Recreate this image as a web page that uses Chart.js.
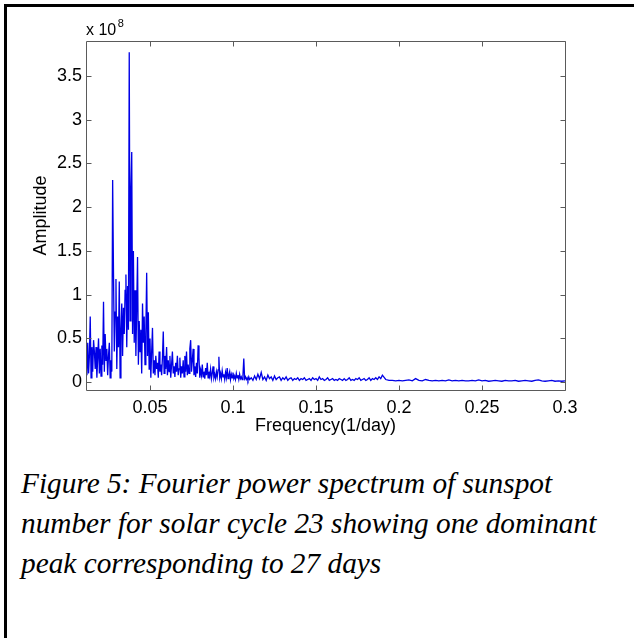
<!DOCTYPE html>
<html>
<head>
<meta charset="utf-8">
<script src="https://cdn.jsdelivr.net/npm/chart.js@4.4.1/dist/chart.umd.min.js"></script>
<style>
  html, body { margin: 0; padding: 0; background: #fff; }
  body { width: 634px; height: 638px; position: relative; overflow: hidden; }
  #frame { position: absolute; left: 4px; top: 4px; right: -10px; bottom: -10px;
           border-top: 3px solid #000; border-left: 3px solid #000; }
  #chart { position: absolute; left: 0; top: 0; }
  #caption { position: absolute; left: 21px; top: 463px; white-space: nowrap;
             font-family: "Liberation Serif", "Times New Roman", serif; font-style: italic;
             font-size: 29.3px; line-height: 40px; color: #000; }
</style>
</head>
<body>
<div id="frame"></div>
<canvas id="chart" width="634" height="440"></canvas>
<div id="caption">Figure 5: Fourier power spectrum of sunspot<br>number for solar cycle 23 showing one dominant<br>peak corresponding to 27 days</div>
<script>
// axis ranges and ticks (amplitude in units of 1e8)
const xMin = 0.01145, xMax = 0.3;
const yMin = -0.09, yMax = 3.9;
const xTicks = [0.05, 0.1, 0.15, 0.2, 0.25, 0.3];
const yTicks = [0, 0.5, 1, 1.5, 2, 2.5, 3, 3.5];

// low frequency part
const freqLow = [
  0.0115,0.0120,0.0125,0.0130,0.0135,0.0140,0.0145,0.0150,0.0155,0.0160,
  0.0165,0.0170,0.0175,0.0180,0.0185,0.0190,0.0195,0.0200,0.0205,0.0210,
  0.0215,0.0220,0.0225,0.0230,0.0235,0.0240,0.0245,0.0250,0.0255,0.0260,
  0.0265,0.0270,0.0275,0.0280,0.0285,0.0290,0.0295,0.0300,0.0305,0.0310,
  0.0315,0.0320,0.0325,0.0330,0.0335,0.0340,0.0345,0.0350,0.0355,0.0360,
  0.0365,0.0370,0.0375,0.0380,0.0385,0.0390,0.0395,0.0400,0.0405,0.0410,
  0.0415,0.0420,0.0425,0.0430,0.0435,0.0440,0.0445,0.0450,0.0455,0.0460,
  0.0465,0.0470,0.0475,0.0480,0.0485,0.0490,0.0495,0.0500,0.0505,0.0510,
  0.0515,0.0520,0.0525,0.0530,0.0535,0.0540,0.0545,0.0550,0.0555,0.0560,
  0.0565,0.0570,0.0575,0.0580,0.0585,0.0590,0.0595,0.0600,0.0605,0.0610,
  0.0615,0.0620,0.0625,0.0630,0.0635,0.0640,0.0645,0.0650,0.0655,0.0660,
  0.0665,0.0670,0.0675,0.0680,0.0685,0.0690,0.0695,0.0700,0.0705,0.0710,
  0.0715,0.0720,0.0725,0.0730,0.0735,0.0740,0.0745,0.0750,0.0755,0.0760,
  0.0765,0.0770,0.0775,0.0780,0.0785,0.0790,0.0795,0.0800,0.0805,0.0810,
  0.0815,0.0820,0.0825,0.0830,0.0835,0.0840,0.0845,0.0850,0.0855,0.0860,
  0.0865,0.0870,0.0875,0.0880,0.0885,0.0890,0.0895,0.0900,0.0905,0.0910,
  0.0915,0.0920,0.0925,0.0930,0.0935,0.0940,0.0945,0.0950,0.0955,0.0960,
  0.0965,0.0970,0.0975,0.0980,0.0985,0.0990,0.0995,0.1000,0.1005,0.1010,
  0.1015,0.1020,0.1025,0.1030,0.1035,0.1040,0.1045,0.1050,0.1055,0.1060,
  0.1065,0.1070,0.1075,0.1080,0.1085,0.1090,0.1095,0.1100
];
const ampLow = [
  0.35,0.08,0.45,0.10,0.30,0.75,0.05,0.40,0.12,0.48,
  0.35,0.15,0.40,0.05,0.28,0.50,0.10,0.38,0.07,0.42,
  0.20,0.92,0.12,0.55,0.25,0.38,0.08,0.30,0.45,0.05,
  0.25,0.12,2.31,1.27,0.35,0.80,1.18,0.15,0.75,0.40,
  1.15,0.05,0.60,0.90,0.30,0.85,0.55,1.05,1.23,0.40,
  1.10,0.60,3.77,0.70,2.20,2.63,0.55,1.50,0.45,1.05,
  0.30,0.85,1.43,0.20,0.70,0.35,0.60,0.10,0.90,0.45,
  0.75,0.20,0.55,1.25,0.30,0.80,0.15,0.50,0.05,0.35,
  0.62,0.10,0.25,0.08,0.30,0.15,0.22,0.05,0.35,0.12,
  0.20,0.08,0.28,0.58,0.10,0.30,0.15,0.40,0.08,0.25,
  0.12,0.30,0.05,0.20,0.35,0.10,0.18,0.06,0.22,0.12,
  0.30,0.08,0.15,0.28,0.05,0.18,0.10,0.25,0.06,0.30,
  0.12,0.35,0.08,0.20,0.10,0.38,0.48,0.12,0.25,0.38,
  0.08,0.18,0.06,0.22,0.10,0.42,0.28,0.05,0.14,0.08,
  0.20,0.06,0.12,0.04,0.16,0.08,0.22,0.05,0.12,0.07,
  0.15,0.04,0.10,0.18,0.05,0.09,0.04,0.12,0.06,0.14,
  0.29,0.05,0.10,0.04,0.13,0.06,0.09,0.03,0.11,0.05,
  0.16,0.04,0.08,0.12,0.03,0.09,0.05,0.11,0.04,0.07,
  0.03,0.10,0.05,0.08,0.03,0.09,0.04,0.06,0.03,0.08,
  0.27,0.04,0.06,0.03,0.05,0.02,0.06,0.03
];

// middle part
const freqMid = [
  0.111,0.112,0.113,0.114,0.115,0.116,0.117,0.118,0.119,0.120,
  0.121,0.122,0.123,0.124,0.125,0.126,0.127,0.128,0.129,0.130,
  0.131,0.132,0.133,0.134,0.135,0.136,0.137,0.138,0.139,0.140,
  0.141,0.142,0.143,0.144,0.145,0.146,0.147,0.148,0.149,0.150,
  0.151,0.152,0.153,0.154,0.155,0.156,0.157,0.158,0.159,0.160,
  0.161,0.162,0.163,0.164,0.165,0.166,0.167,0.168,0.169,0.170,
  0.171,0.172,0.173,0.174,0.175,0.176,0.177,0.178,0.179,0.180,
  0.181,0.182,0.183,0.184,0.185,0.186,0.187,0.188,0.189,0.190
];
const ampMid = [
  0.05,0.02,0.07,0.03,0.09,0.04,0.11,0.03,0.06,0.02,
  0.08,0.04,0.06,0.02,0.07,0.03,0.05,0.06,0.02,0.05,
  0.03,0.06,0.02,0.04,0.05,0.02,0.04,0.03,0.05,0.02,
  0.04,0.03,0.05,0.02,0.03,0.04,0.02,0.05,0.03,0.04,
  0.02,0.06,0.03,0.04,0.02,0.03,0.05,0.02,0.03,0.04,
  0.02,0.03,0.02,0.04,0.03,0.02,0.04,0.02,0.03,0.05,
  0.02,0.03,0.02,0.04,0.03,0.05,0.02,0.03,0.04,0.02,
  0.03,0.05,0.02,0.04,0.03,0.05,0.03,0.06,0.04,0.08
];

// high frequency tail
const freqHigh = [
  0.192,0.194,0.196,0.198,0.200,0.202,0.204,0.206,0.208,0.210,
  0.212,0.214,0.216,0.218,0.220,0.222,0.224,0.226,0.228,0.230,
  0.232,0.234,0.236,0.238,0.240,0.242,0.244,0.246,0.248,0.250,
  0.252,0.254,0.256,0.258,0.260,0.262,0.264,0.266,0.268,0.270,
  0.272,0.274,0.276,0.278,0.280,0.282,0.284,0.286,0.288,0.290,
  0.292,0.294,0.296,0.298,0.300
];
const ampHigh = [
  0.03,0.02,0.02,0.015,0.02,0.015,0.02,0.025,0.015,0.04,
  0.02,0.015,0.03,0.02,0.015,0.02,0.015,0.02,0.015,0.025,
  0.015,0.02,0.015,0.02,0.015,0.015,0.02,0.015,0.025,0.015,
  0.02,0.01,0.015,0.02,0.015,0.01,0.02,0.015,0.015,0.02,
  0.01,0.015,0.02,0.015,0.01,0.02,0.025,0.015,0.01,0.015,
  0.02,0.01,0.015,0.01,0.015
];

const points = [];
[[freqLow, ampLow], [freqMid, ampMid], [freqHigh, ampHigh]].forEach(([f, a]) => {
  f.forEach((x, i) => points.push({ x: x, y: a[i] }));
});

const axisFont = { family: "'Liberation Sans', Arial, sans-serif", size: 18 };

// matlab style box with inward ticks, plus the exponent label
const boxPlugin = {
  id: "box",
  afterDatasetsDraw(chart) {
    const { ctx, chartArea: a, scales: { x, y } } = chart;
    const L = Math.round(a.left) + 0.5, R = Math.round(a.right) + 0.5;
    const T = Math.round(a.top) + 0.5, B = Math.round(a.bottom) + 0.5;
    ctx.save();
    ctx.strokeStyle = "#5a5a5a";
    ctx.lineWidth = 1;
    ctx.beginPath();
    ctx.rect(L, T, R - L, B - T);
    xTicks.forEach(v => {
      const px = Math.round(x.getPixelForValue(v)) + 0.5;
      ctx.moveTo(px, B); ctx.lineTo(px, B - 5);
      ctx.moveTo(px, T); ctx.lineTo(px, T + 5);
    });
    yTicks.forEach(v => {
      const py = Math.round(y.getPixelForValue(v)) + 0.5;
      ctx.moveTo(L, py); ctx.lineTo(L + 5, py);
      ctx.moveTo(R, py); ctx.lineTo(R - 5, py);
    });
    ctx.stroke();

    ctx.fillStyle = "#000";
    ctx.textBaseline = "alphabetic";
    ctx.font = "16px 'Liberation Sans', Arial, sans-serif";
    ctx.fillText("x 10", L - 0.5, 35);
    const w = ctx.measureText("x 10").width;
    ctx.font = "11px 'Liberation Sans', Arial, sans-serif";
    ctx.fillText("8", L + w + 1, 27);
    ctx.restore();
  }
};

new Chart(document.getElementById("chart"), {
  type: "line",
  data: {
    datasets: [{
      data: points,
      borderColor: "#0000e6",
      borderWidth: 1.3,
      pointRadius: 0,
      tension: 0,
      fill: false
    }]
  },
  options: {
    responsive: false,
    animation: false,
    devicePixelRatio: 1,
    layout: { padding: { left: 0, right: 69, top: 41, bottom: 0 } },
    plugins: { legend: { display: false }, tooltip: { enabled: false } },
    scales: {
      x: {
        type: "linear", min: xMin, max: xMax,
        grid: { display: false, drawTicks: false },
        border: { display: false },
        afterBuildTicks: s => { s.ticks = xTicks.map(v => ({ value: v })); },
        afterFit: s => { s.height = 50; },
        ticks: { font: axisFont, color: "#000", padding: 7, maxRotation: 0, autoSkip: false,
                 callback: v => String(v) },
        title: { display: true, text: "Frequency(1/day)", font: axisFont, color: "#000",
                 padding: { top: 0, bottom: 3 } }
      },
      y: {
        type: "linear", min: yMin, max: yMax,
        grid: { display: false, drawTicks: false },
        border: { display: false },
        afterBuildTicks: s => { s.ticks = yTicks.map(v => ({ value: v })); },
        afterFit: s => { s.width = 86; },
        ticks: { font: axisFont, color: "#000", padding: 4, autoSkip: false,
                 callback: v => String(v) },
        title: { display: true, text: "Amplitude", font: axisFont, color: "#000",
                 padding: { top: 30, bottom: 0 } }
      }
    }
  },
  plugins: [boxPlugin]
});
</script>
</body>
</html>
